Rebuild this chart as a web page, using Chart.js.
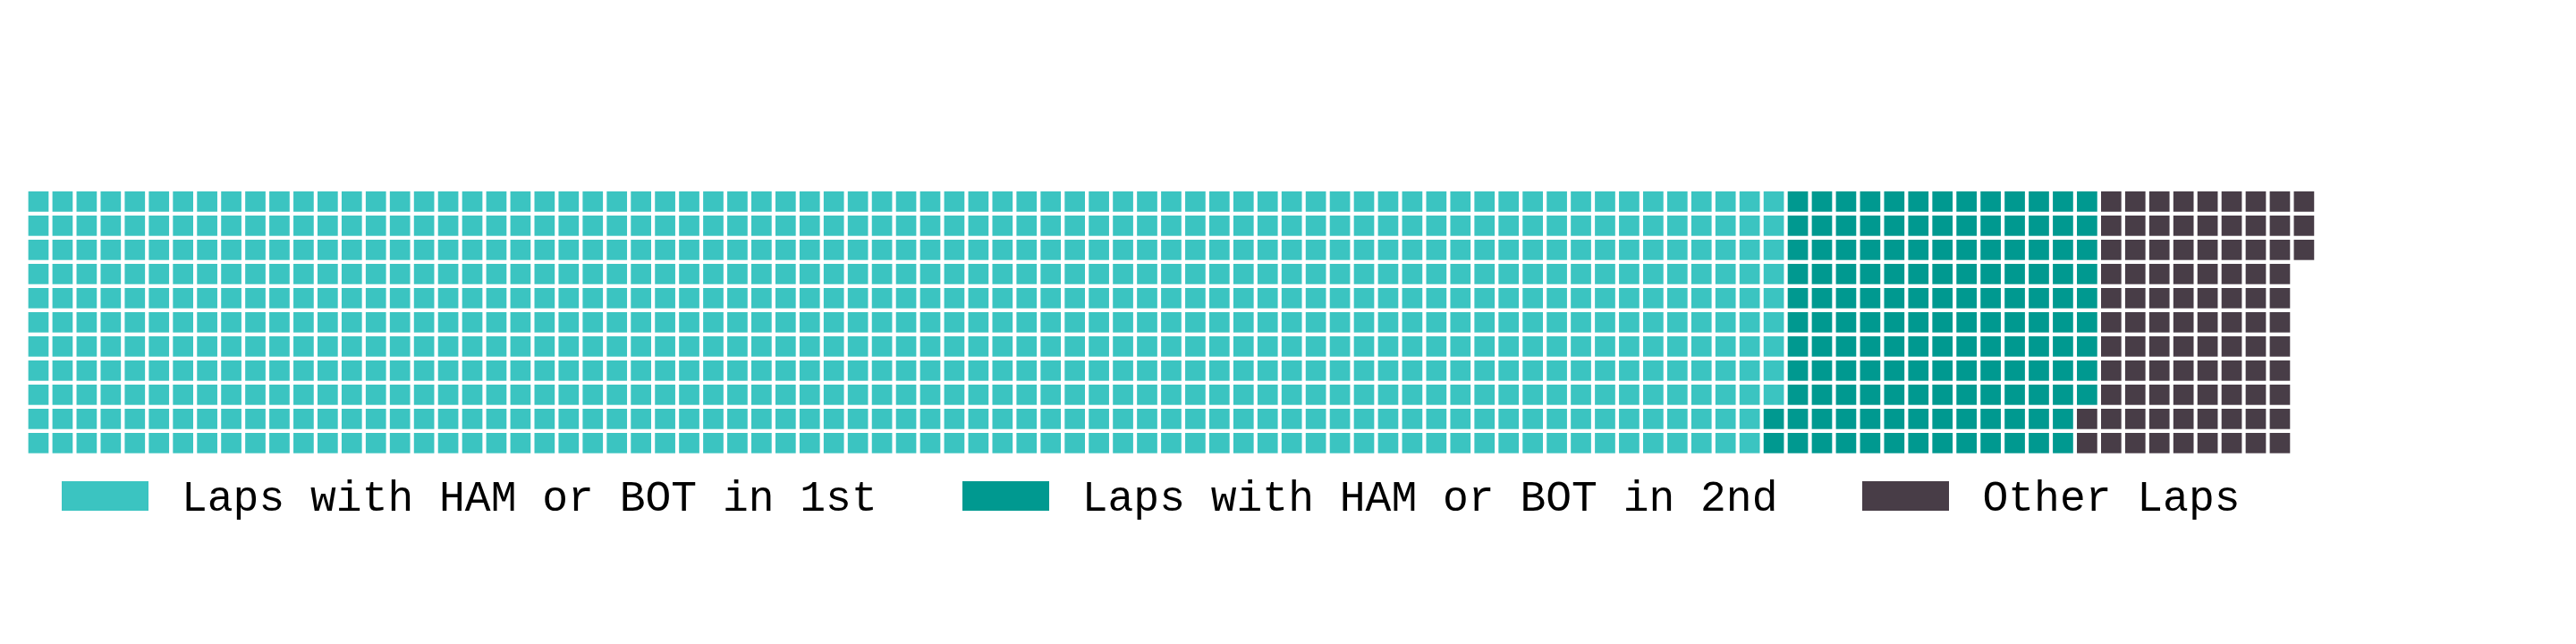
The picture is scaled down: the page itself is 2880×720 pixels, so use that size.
<!DOCTYPE html>
<html>
<head>
<meta charset="utf-8">
<script src="https://cdn.jsdelivr.net/npm/chart.js@4.4.1/dist/chart.umd.min.js"></script>
<style>
  html, body { margin: 0; padding: 0; background: #fff; }
  #wrap { position: relative; width: 2880px; height: 720px; }
  #legend {
    position: absolute; left: 69px; top: 538px;
    display: flex; align-items: flex-end;
    font-family: "Courier New", "Liberation Mono", monospace;
    font-size: 48px; color: #000;
  }
  .item { display: flex; align-items: flex-end; margin-right: 95px; }
  .box { width: 97px; height: 33px; margin-right: 37px; }
  .label { line-height: 33px; height: 33px; white-space: pre; position: relative; top: 4px; }
</style>
</head>
<body>
<div id="wrap">
  <canvas id="chart" width="2880" height="720"></canvas>
  <div id="legend"></div>
</div>
<script>
// waffle data
const categories = ['Laps with HAM or BOT in 1st', 'Laps with HAM or BOT in 2nd', 'Other Laps'];
const counts = [801, 143, 93];
const colors = ['#3BC4C1', '#009990', '#483D47'];
const rows = 11;

// one point per lap, filled column by column from the top
const datasets = categories.map((label, i) => ({
  label,
  data: [],
  backgroundColor: colors[i],
  pointStyle: 'rect',
  pointRadius: 16.05,
  pointHoverRadius: 16.05,
  borderWidth: 0,
  clip: false
}));

let k = 0;
counts.forEach((n, i) => {
  for (let c = 0; c < n; c++) {
    datasets[i].data.push({ x: Math.floor(k / rows), y: k % rows });
    k++;
  }
});

new Chart(document.getElementById('chart'), {
  type: 'scatter',
  data: { datasets },
  options: {
    responsive: false,
    animation: false,
    events: [],
    layout: {
      padding: { left: 10.35, right: 34.65, top: 198.35, bottom: 197.65 }
    },
    scales: {
      x: { type: 'linear', min: -1, max: 104, display: false },
      y: { type: 'linear', min: -1, max: 11, reverse: true, display: false }
    },
    plugins: {
      legend: { display: false },
      tooltip: { enabled: false }
    }
  }
});

// legend
const legend = document.getElementById('legend');
categories.forEach((label, i) => {
  const item = document.createElement('div');
  item.className = 'item';
  const box = document.createElement('div');
  box.className = 'box';
  box.style.background = colors[i];
  const txt = document.createElement('div');
  txt.className = 'label';
  txt.textContent = label;
  item.appendChild(box);
  item.appendChild(txt);
  legend.appendChild(item);
});
</script>
</body>
</html>
